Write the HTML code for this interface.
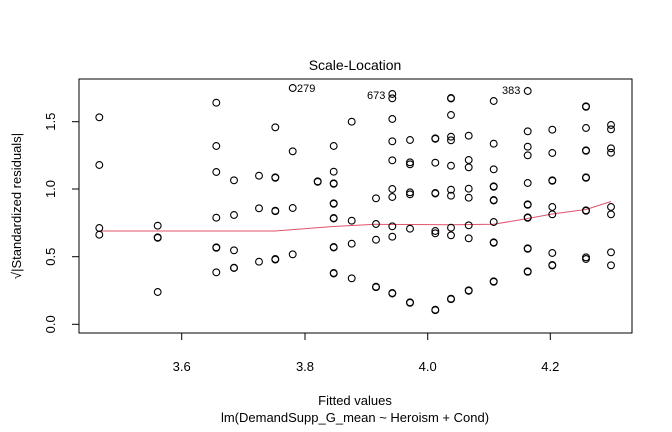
<!DOCTYPE html>
<html><head><meta charset="utf-8"><style>
html,body{margin:0;padding:0;background:#fff;}
svg{display:block;font-family:"Liberation Sans",Arial,sans-serif;}
</style></head><body>
<svg width="672" height="432" viewBox="0 0 672 432" xmlns="http://www.w3.org/2000/svg">
<rect x="0" y="0" width="672" height="432" fill="#fff"/>
<text x="355" y="70" font-size="14" text-anchor="middle">Scale-Location</text>
<rect x="79" y="79" width="553" height="254" fill="none" stroke="#000" stroke-width="1"/>
<g stroke="#000" stroke-width="1">
<line x1="181.7" y1="333" x2="181.7" y2="340"/><line x1="305" y1="333" x2="305" y2="340"/>
<line x1="427.7" y1="333" x2="427.7" y2="340"/><line x1="550.3" y1="333" x2="550.3" y2="340"/>
<line x1="72" y1="121.7" x2="79" y2="121.7"/><line x1="72" y1="189" x2="79" y2="189"/>
<line x1="72" y1="256.7" x2="79" y2="256.7"/><line x1="72" y1="324.3" x2="79" y2="324.3"/>
</g>
<g font-size="13" text-anchor="middle">
<text x="181.7" y="371">3.6</text><text x="305" y="371">3.8</text><text x="427.7" y="371">4.0</text><text x="550.3" y="371">4.2</text>
<text transform="translate(55,121.7) rotate(-90)">1.5</text>
<text transform="translate(55,189) rotate(-90)">1.0</text>
<text transform="translate(55,256.7) rotate(-90)">0.5</text>
<text transform="translate(55,324.3) rotate(-90)">0.0</text>
<text x="355" y="405">Fitted values</text>
<text x="355" y="422">lm(DemandSupp_G_mean ~ Heroism + Cond)</text>
<text transform="translate(21,206) rotate(-90)">√|Standardized residuals|</text>
</g>
<polyline fill="none" stroke="#DF536B" stroke-width="1" points="99.3,231 160,231 275,231 333,226.5 376,224.3 410,224.5 450,224.8 493.7,224.3 527.7,218.5 552.3,214 586,209.5 611,201.5"/>
<g fill="none" stroke="#000" stroke-width="1">
<script type="text/javascript"></script>
</g>
<g id="pts" fill="none" stroke="#000" stroke-width="1.1">
</g>
<g font-size="11">
<text x="297" y="92">279</text>
<text x="367" y="99">673</text>
<text x="502" y="94">383</text>
</g>
<g fill="none" stroke="#000" stroke-width="1.1">
<circle cx="99.3" cy="117.3" r="3.4"/><circle cx="99.3" cy="165" r="3.4"/><circle cx="99.3" cy="228" r="3.4"/><circle cx="99.3" cy="234.7" r="3.4"/>
<circle cx="157.7" cy="225.7" r="3.4"/><circle cx="157.7" cy="237.3" r="3.4"/><circle cx="157.7" cy="237.8" r="3.4"/><circle cx="157.7" cy="292" r="3.4"/>
<circle cx="216.3" cy="102.7" r="3.4"/><circle cx="216.3" cy="146" r="3.4"/><circle cx="216.3" cy="172" r="3.4"/><circle cx="216.3" cy="217.7" r="3.4"/><circle cx="216.3" cy="247.3" r="3.4"/><circle cx="216.3" cy="247.8" r="3.4"/><circle cx="216.3" cy="272.3" r="3.4"/>
<circle cx="234" cy="180.3" r="3.4"/><circle cx="234" cy="215" r="3.4"/><circle cx="234" cy="250.3" r="3.4"/><circle cx="234" cy="267.7" r="3.4"/><circle cx="234" cy="268" r="3.4"/>
<circle cx="259" cy="175.7" r="3.4"/><circle cx="259" cy="208.3" r="3.4"/><circle cx="259" cy="261.7" r="3.4"/>
<circle cx="275.3" cy="127.3" r="3.4"/><circle cx="275.3" cy="177.3" r="3.4"/><circle cx="275.3" cy="177.8" r="3.4"/><circle cx="275.3" cy="210.7" r="3.4"/><circle cx="275.3" cy="211.2" r="3.4"/><circle cx="275.3" cy="259" r="3.4"/><circle cx="275.3" cy="259.6" r="3.4"/>
<circle cx="292.7" cy="88" r="3.4"/><circle cx="292.7" cy="151.3" r="3.4"/><circle cx="292.7" cy="208" r="3.4"/><circle cx="292.7" cy="254.3" r="3.4"/>
<circle cx="317.7" cy="181.3" r="3.4"/><circle cx="317.7" cy="181.8" r="3.4"/>
<circle cx="333.7" cy="146" r="3.4"/><circle cx="333.7" cy="171.7" r="3.4"/><circle cx="333.7" cy="183.3" r="3.4"/><circle cx="333.7" cy="183.8" r="3.4"/><circle cx="333.7" cy="203.3" r="3.4"/><circle cx="333.7" cy="203.8" r="3.4"/><circle cx="333.7" cy="218" r="3.4"/><circle cx="333.7" cy="218.5" r="3.4"/><circle cx="333.7" cy="247" r="3.4"/><circle cx="333.7" cy="247.5" r="3.4"/><circle cx="333.7" cy="273" r="3.4"/><circle cx="333.7" cy="273.5" r="3.4"/>
<circle cx="351.7" cy="121.7" r="3.4"/><circle cx="351.7" cy="220.7" r="3.4"/><circle cx="351.7" cy="243.7" r="3.4"/><circle cx="351.7" cy="278.3" r="3.4"/>
<circle cx="376" cy="198.3" r="3.4"/><circle cx="376" cy="224" r="3.4"/><circle cx="376" cy="239.7" r="3.4"/><circle cx="376" cy="286.7" r="3.4"/><circle cx="376" cy="287.2" r="3.4"/>
<circle cx="392.3" cy="94" r="3.4"/><circle cx="392.3" cy="98.3" r="3.4"/><circle cx="392.3" cy="119" r="3.4"/><circle cx="392.3" cy="141.3" r="3.4"/><circle cx="392.3" cy="160.3" r="3.4"/><circle cx="392.3" cy="189" r="3.4"/><circle cx="392.3" cy="197" r="3.4"/><circle cx="392.3" cy="226.3" r="3.4"/><circle cx="392.3" cy="236.7" r="3.4"/><circle cx="392.3" cy="293" r="3.4"/><circle cx="392.3" cy="293.5" r="3.4"/>
<circle cx="410" cy="140" r="3.4"/><circle cx="410" cy="162.3" r="3.4"/><circle cx="410" cy="164.3" r="3.4"/><circle cx="410" cy="192.3" r="3.4"/><circle cx="410" cy="194.3" r="3.4"/><circle cx="410" cy="228.7" r="3.4"/><circle cx="410" cy="302.3" r="3.4"/><circle cx="410" cy="302.8" r="3.4"/>
<circle cx="435.3" cy="138.3" r="3.4"/><circle cx="435.3" cy="138.8" r="3.4"/><circle cx="435.3" cy="162.7" r="3.4"/><circle cx="435.3" cy="193" r="3.4"/><circle cx="435.3" cy="193.5" r="3.4"/><circle cx="435.3" cy="231" r="3.4"/><circle cx="435.3" cy="233.3" r="3.4"/><circle cx="435.3" cy="309.7" r="3.4"/><circle cx="435.3" cy="310.2" r="3.4"/>
<circle cx="451" cy="98" r="3.4"/><circle cx="451" cy="98.5" r="3.4"/><circle cx="451" cy="115" r="3.4"/><circle cx="451" cy="136.7" r="3.4"/><circle cx="451" cy="140.3" r="3.4"/><circle cx="451" cy="165.7" r="3.4"/><circle cx="451" cy="189.7" r="3.4"/><circle cx="451" cy="195.7" r="3.4"/><circle cx="451" cy="227.7" r="3.4"/><circle cx="451" cy="235.3" r="3.4"/><circle cx="451" cy="298.7" r="3.4"/><circle cx="451" cy="299.2" r="3.4"/>
<circle cx="468.7" cy="135.7" r="3.4"/><circle cx="468.7" cy="160" r="3.4"/><circle cx="468.7" cy="167.3" r="3.4"/><circle cx="468.7" cy="188.7" r="3.4"/><circle cx="468.7" cy="197.7" r="3.4"/><circle cx="468.7" cy="225.3" r="3.4"/><circle cx="468.7" cy="238.3" r="3.4"/><circle cx="468.7" cy="290.3" r="3.4"/><circle cx="468.7" cy="290.8" r="3.4"/>
<circle cx="493.7" cy="101" r="3.4"/><circle cx="493.7" cy="143.7" r="3.4"/><circle cx="493.7" cy="169.3" r="3.4"/><circle cx="493.7" cy="186.3" r="3.4"/><circle cx="493.7" cy="186.8" r="3.4"/><circle cx="493.7" cy="200" r="3.4"/><circle cx="493.7" cy="200.5" r="3.4"/><circle cx="493.7" cy="222" r="3.4"/><circle cx="493.7" cy="242.3" r="3.4"/><circle cx="493.7" cy="242.8" r="3.4"/><circle cx="493.7" cy="281.3" r="3.4"/><circle cx="493.7" cy="281.8" r="3.4"/>
<circle cx="527.7" cy="91" r="3.4"/><circle cx="527.7" cy="131.3" r="3.4"/><circle cx="527.7" cy="146.7" r="3.4"/><circle cx="527.7" cy="155.3" r="3.4"/><circle cx="527.7" cy="183" r="3.4"/><circle cx="527.7" cy="204.3" r="3.4"/><circle cx="527.7" cy="204.8" r="3.4"/><circle cx="527.7" cy="217.3" r="3.4"/><circle cx="527.7" cy="217.8" r="3.4"/><circle cx="527.7" cy="248.3" r="3.4"/><circle cx="527.7" cy="248.8" r="3.4"/><circle cx="527.7" cy="271.3" r="3.4"/><circle cx="527.7" cy="271.8" r="3.4"/>
<circle cx="552.3" cy="129.7" r="3.4"/><circle cx="552.3" cy="153" r="3.4"/><circle cx="552.3" cy="180.3" r="3.4"/><circle cx="552.3" cy="180.8" r="3.4"/><circle cx="552.3" cy="207" r="3.4"/><circle cx="552.3" cy="214.3" r="3.4"/><circle cx="552.3" cy="253" r="3.4"/><circle cx="552.3" cy="265" r="3.4"/><circle cx="552.3" cy="265.5" r="3.4"/>
<circle cx="586" cy="106.3" r="3.4"/><circle cx="586" cy="106.8" r="3.4"/><circle cx="586" cy="128" r="3.4"/><circle cx="586" cy="150.3" r="3.4"/><circle cx="586" cy="150.8" r="3.4"/><circle cx="586" cy="177.3" r="3.4"/><circle cx="586" cy="177.8" r="3.4"/><circle cx="586" cy="210.3" r="3.4"/><circle cx="586" cy="210.8" r="3.4"/><circle cx="586" cy="257.3" r="3.4"/><circle cx="586" cy="259" r="3.4"/>
<circle cx="611" cy="125" r="3.4"/><circle cx="611" cy="129.3" r="3.4"/><circle cx="611" cy="148.3" r="3.4"/><circle cx="611" cy="152.7" r="3.4"/><circle cx="611" cy="207" r="3.4"/><circle cx="611" cy="214.3" r="3.4"/><circle cx="611" cy="252.3" r="3.4"/><circle cx="611" cy="265.3" r="3.4"/>
</g>
</svg>
</body></html>
